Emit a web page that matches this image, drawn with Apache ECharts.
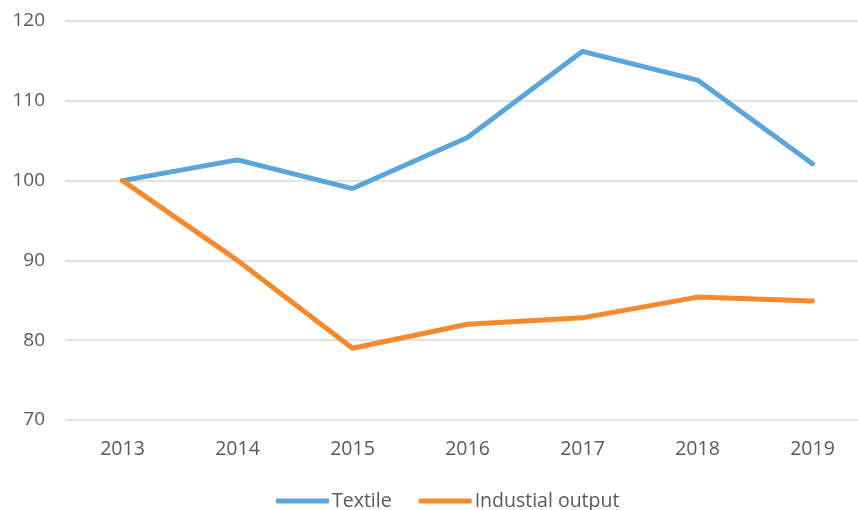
<!DOCTYPE html>
<html lang="en">
<head>
    <meta charset="UTF-8">
    <title>Textile vs industrial output</title>
    <script src="https://cdn.jsdelivr.net/npm/echarts@6/dist/echarts.min.js"></script>
</head>
<body style="margin: 0">
<div id="chart" style="width: 858px; height: 510px"></div>
<script>
    let years = ['2013', '2014', '2015', '2016', '2017', '2018', '2019'];
    let textile = [100, 102.6, 99.0, 105.4, 116.2, 112.6, 102.1];
    let industrial = [100, 90, 79.0, 82.0, 82.8, 85.4, 84.9];

    let myChart = echarts.init(document.getElementById('chart'));
    let textColor = '#595959';
    let font = 'Open Sans';

    let option = {
        animation: false,
        grid: {left: 65, width: 805, top: 21, bottom: 90, containLabel: false, outerBoundsMode: 'none'},
        legend: {
            left: 271,
            top: 486,
            itemWidth: 53,
            itemHeight: 5,
            itemGap: 27,
            icon: 'roundRect',
            textStyle: {color: textColor, fontSize: 19.5, fontFamily: font, padding: [0, 0, 0, -2]},
            data: ['Textile', 'Industial output']
        },
        xAxis: {
            type: 'category',
            data: years,
            axisLine: {show: false},
            axisTick: {show: false},
            axisLabel: {color: textColor, fontSize: 19.5, fontFamily: font, margin: 19}
        },
        yAxis: {
            type: 'value',
            min: 70,
            max: 120,
            interval: 10,
            axisLabel: {color: textColor, fontSize: 19, fontFamily: font, margin: 20},
            splitLine: {lineStyle: {color: '#d9d9d9', width: 1.5}}
        },
        series: [
            {
                name: 'Textile',
                type: 'line',
                data: textile,
                showSymbol: false,
                color: '#5aa5da',
                lineStyle: {width: 5, cap: 'round', join: 'round'}
            },
            {
                name: 'Industial output',
                type: 'line',
                data: industrial,
                showSymbol: false,
                color: '#f5892b',
                lineStyle: {width: 5, cap: 'round', join: 'round'}
            }
        ]
    };
    myChart.setOption(option);
</script>
</body>
</html>
